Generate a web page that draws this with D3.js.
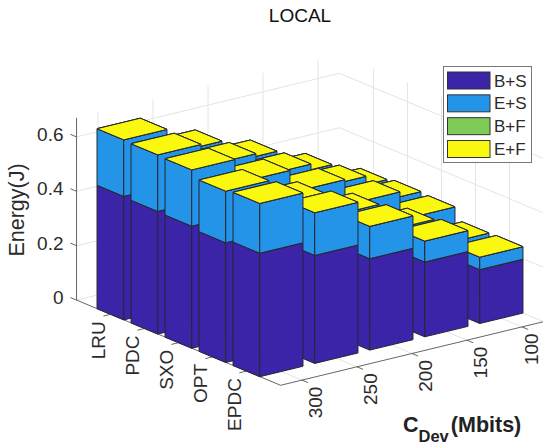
<!DOCTYPE html>
<html>
<head>
<meta charset="utf-8">
<script src="https://cdn.jsdelivr.net/npm/d3@7"></script>
<style>
html,body{margin:0;padding:0;background:#fff;overflow:hidden}
text{font-family:"Liberation Sans",Arial,sans-serif;fill:#2b2b2b}
</style>
</head>
<body>
<svg id="chart" width="543" height="445"></svg>
<script>
// ---- Data ----
const categories = ["LRU", "PDC", "SXO", "OPT", "EPDC"];
const capacities = [300, 250, 200, 150, 100];
const energyTicks = [0, 0.2, 0.4, 0.6];
const seriesNames = ["B+S", "E+S", "B+F", "E+F"];
const seriesColors = ["#3b24a8", "#2394e8", "#7ecb58", "#fbf80f"];
// rows: categories, columns: capacities
const bPlusS = [
  [0.454, 0.398, 0.337, 0.276, 0.199],
  [0.451, 0.396, 0.336, 0.275, 0.198],
  [0.449, 0.394, 0.335, 0.274, 0.198],
  [0.440, 0.390, 0.332, 0.272, 0.196],
  [0.454, 0.397, 0.336, 0.275, 0.198]
];
const ePlusS = [
  [0.208, 0.172, 0.147, 0.110, 0.083],
  [0.208, 0.180, 0.153, 0.120, 0.092],
  [0.207, 0.173, 0.149, 0.116, 0.088],
  [0.190, 0.146, 0.113, 0.069, 0.046],
  [0.183, 0.157, 0.119, 0.077, 0.046]
];
const bPlusF = [
  [0, 0, 0, 0, 0], [0, 0, 0, 0, 0], [0, 0, 0, 0, 0], [0, 0, 0, 0, 0], [0, 0, 0, 0, 0]
];
const ePlusF = [
  [0, 0, 0, 0, 0], [0, 0, 0, 0, 0], [0, 0, 0, 0, 0], [0, 0, 0, 0, 0], [0, 0, 0, 0, 0]
];
const stackSeries = [bPlusS, ePlusS, bPlusF, ePlusF];

// ---- Oblique 3-D projection built from linear scales ----
const uMin = -1, uMax = 5, vMin = -0.39, vMax = 4.39, zMax = 0.67;
const uX = d3.scaleLinear().domain([0, 1]).range([0, 34]);
const uY = d3.scaleLinear().domain([0, 1]).range([0, 14.2]);
const vX = d3.scaleLinear().domain([0, 1]).range([0, 55]);
const vY = d3.scaleLinear().domain([0, 1]).range([0, -13.3]);
const zY = d3.scaleLinear().domain([0, 1]).range([0, -272]);
const originX = 132, originY = 309.1;   // floor position of the LRU / 300 bar centre
const project = (u, v, z = 0) => [originX + uX(u) + vX(v), originY + uY(u) + vY(v) + zY(z)];

const svg = d3.select("#chart");
const line = d3.line();
const barHalf = 0.393;

// ---- Grid on walls and floor ----
const gridSegs = [];
energyTicks.forEach(t => {
  gridSegs.push([project(uMin, vMin, t), project(uMin, vMax, t)]);
  gridSegs.push([project(uMin, vMax, t), project(uMax, vMax, t)]);
});
categories.forEach((c, u) => {
  gridSegs.push([project(u, vMax, 0), project(u, vMax, zMax)]);
  gridSegs.push([project(u, vMin, 0), project(u, vMax, 0)]);
});
capacities.forEach((c, v) => {
  gridSegs.push([project(uMin, v, 0), project(uMin, v, zMax)]);
  gridSegs.push([project(uMin, v, 0), project(uMax, v, 0)]);
});
svg.append("g").selectAll("path").data(gridSegs).join("path")
  .attr("d", d => line(d)).attr("fill", "none").attr("stroke", "#e4e4e4").attr("stroke-width", 1);

// ---- Axis lines and ticks ----
const axisSegs = [
  [project(uMin, vMin, 0), project(uMin, vMin, zMax)],
  [project(uMin, vMin, 0), project(uMax, vMin, 0)],
  [project(uMax, vMin, 0), project(uMax, vMax, 0)]
];
energyTicks.forEach(t => axisSegs.push([project(uMin, vMin, t), project(uMin - 0.18, vMin, t)]));
categories.forEach((c, u) => axisSegs.push([project(u, vMin, 0), project(u, vMin - 0.13, 0)]));
capacities.forEach((c, v) => axisSegs.push([project(uMax, v, 0), project(uMax + 0.18, v, 0)]));
svg.append("g").selectAll("path").data(axisSegs).join("path")
  .attr("d", d => line(d)).attr("fill", "none").attr("stroke", "#555").attr("stroke-width", 0.9);

// ---- Bars: far ones first, each stack bottom-up ----
const faces = [];
d3.range(capacities.length - 1, -1, -1).forEach(v => {
  categories.forEach((c, u) => {
    let base = 0;
    stackSeries.forEach((series, s) => {
      const top = base + series[u][v];
      const u0 = u - barHalf, u1 = u + barHalf, v0 = v - barHalf, v1 = v + barHalf;
      if (top > base) {
        faces.push({s, pts: [project(u1, v0, base), project(u0, v0, base), project(u0, v0, top), project(u1, v0, top)]});
        faces.push({s, pts: [project(u1, v0, base), project(u1, v1, base), project(u1, v1, top), project(u1, v0, top)]});
      }
      faces.push({s, pts: [project(u1, v0, top), project(u0, v0, top), project(u0, v1, top), project(u1, v1, top)]});
      base = top;
    });
  });
});
svg.append("g").selectAll("path").data(faces).join("path")
  .attr("d", d => line(d.pts) + "Z")
  .attr("fill", d => seriesColors[d.s])
  .attr("stroke", "#27272f").attr("stroke-width", 1).attr("stroke-linejoin", "round");

// ---- Tick labels ----
svg.append("g").selectAll("text").data(energyTicks).join("text")
  .attr("x", 63.5)
  .attr("y", d => project(uMin, vMin, d)[1] - 3)
  .attr("dy", "0.36em").attr("text-anchor", "end").attr("font-size", 19)
  .text(d => d === 0 ? "0" : d.toFixed(1));

svg.append("g").selectAll("text").data(categories).join("text")
  .attr("transform", (d, i) => {
    const p = project(i, vMin, 0);
    return `translate(${p[0] - 12},${p[1] + 7}) rotate(-90)`;
  })
  .attr("dy", "0.36em").attr("text-anchor", "end").attr("font-size", 19)
  .text(d => d);

const labelRight = 531.5;   // keeps the whole text box inside the page
svg.append("g").selectAll("text").data(capacities).join("text")
  .attr("transform", (d, i) => {
    const p = project(uMax, i, 0);
    return `translate(${Math.min(p[0] + 13.5, labelRight)},${p[1] + 6.5}) rotate(-90)`;
  })
  .attr("dy", "0.36em").attr("text-anchor", "end").attr("font-size", 19)
  .text(d => d);

// ---- Titles ----
svg.append("text").attr("x", 300).attr("y", 22).attr("text-anchor", "middle")
  .attr("font-size", 19).style("fill", "#111").text("LOCAL");
svg.append("text").attr("transform", "translate(24,210) rotate(-90)").attr("text-anchor", "middle")
  .attr("font-size", 21.5).text("Energy(J)");
const xTitle = svg.append("text").attr("x", 403).attr("y", 431.5).attr("font-weight", "bold").attr("font-size", 21.5).style("fill", "#222");
xTitle.append("tspan").text("C");
xTitle.append("tspan").attr("font-size", 16.5).attr("dy", 10).text("Dev");
xTitle.append("tspan").attr("dy", -10).attr("dx", 2).text("(Mbits)");

// ---- Legend ----
const legend = svg.append("g");
legend.append("rect").attr("x", 443.5).attr("y", 66.5).attr("width", 88).attr("height", 96)
  .attr("fill", "#fff").attr("stroke", "#777").attr("stroke-width", 1);
const rowY = d3.scalePoint().domain(seriesNames).range([72, 140.5]);
const rows = legend.selectAll("g").data(seriesNames).join("g");
rows.append("rect").attr("x", 447.5).attr("y", d => rowY(d)).attr("width", 42.5).attr("height", 17)
  .attr("fill", (d, i) => seriesColors[i]).attr("stroke", "#333").attr("stroke-width", 1);
rows.append("text").attr("x", 494).attr("y", d => rowY(d) + 8.5).attr("dy", "0.36em")
  .attr("font-size", 17).text(d => d);
</script>
</body>
</html>
